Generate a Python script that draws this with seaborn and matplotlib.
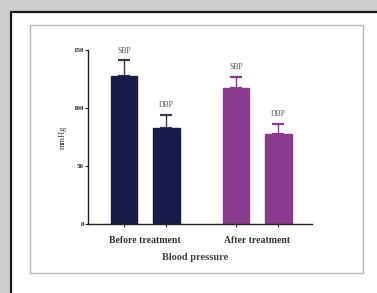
import matplotlib
matplotlib.use("Agg")
import matplotlib.pyplot as plt
from matplotlib.patches import Rectangle
import pandas as pd
import seaborn as sns

# 数据
groups = ["Before treatment", "After treatment"]
measures = ["SBP", "DBP"]
means = [128, 83, 117, 78]
sds = [13, 11, 10, 8]
bar_colors = ["#181b47", "#181b47", "#8b3b8f", "#8b3b8f"]

W, H = 377, 293

df = pd.DataFrame({
    "group": [g for g in groups for _ in measures],
    "measure": measures * len(groups),
    "value": means,
})

sns.set_theme(style="white")
plt.rcParams["font.family"] = ["Liberation Serif", "DejaVu Serif"]

fig = plt.figure(figsize=(W / 100, H / 100), dpi=100)
fig.patch.set_facecolor("#cdd0cf")


def box(x0, y0, x1, y1, **kw):
    # 像素坐标(左上原点) -> figure 坐标
    r = Rectangle((x0 / W, 1 - y1 / H), (x1 - x0) / W, (y1 - y0) / H,
                  transform=fig.transFigure, zorder=-10, **kw)
    fig.patches.append(r)


box(11, 12, 390, 300, facecolor="white", edgecolor="#1a1a1a", linewidth=1.6)
box(30, 25, 363, 273, facecolor="white", edgecolor="#b5b5b5", linewidth=1.0)

ax = fig.add_axes([88 / W, 1 - 224 / H, 224 / W, 174 / H])
ax.set_facecolor("none")

sns.barplot(data=df, x="group", y="value", hue="measure", ax=ax,
            width=0.76, gap=0.38, errorbar=None, legend=False,
            order=groups, hue_order=measures)

bars = sorted(ax.patches, key=lambda p: p.get_x())
for i, p in enumerate(bars):
    p.set_facecolor(bar_colors[i])
    p.set_edgecolor(bar_colors[i])
    p.set_zorder(2)
    cx = p.get_x() + p.get_width() / 2
    top = p.get_height()
    ax.errorbar(cx, top, yerr=[[0], [sds[i]]], fmt="none",
                ecolor=bar_colors[i] if i >= 2 else "#3a3a48",
                elinewidth=1.0, capsize=4, capthick=1.6, zorder=1)
    ax.text(cx, top + sds[i] + 5, measures[i % 2], ha="center", va="bottom",
            fontsize=5.5, color="#555555")

ax.set_xlim(-0.51, 1.49)
ax.set_ylim(0, 150)
ax.set_yticks([0, 50, 100, 150])
ax.tick_params(axis="y", labelsize=5, length=2, width=0.8, pad=1,
               left=True, labelcolor="#222222")
for t in ax.get_yticklabels():
    t.set_fontweight("bold")
ax.set_xticks([(bars[i].get_x() + bars[i].get_width() / 2) for i in range(4)])
ax.set_xticklabels([])
ax.tick_params(axis="x", length=2, width=0.8, bottom=True)
for j, g in enumerate(groups):
    ax.text(j, -10, g, ha="center", va="top", fontsize=7, fontweight="bold",
            color="#333333")
ax.set_xlabel("")
ax.set_ylabel("mmHg", fontsize=6, color="#333333", labelpad=5)
fig.text(195 / W, 1 - 258 / H, "Blood pressure", ha="center", va="center",
         fontsize=7.5, fontweight="bold", color="#444444")

for s in ["top", "right"]:
    ax.spines[s].set_visible(False)
for s in ["left", "bottom"]:
    ax.spines[s].set_color("#222222")
    ax.spines[s].set_linewidth(1.0)

fig.savefig("out.png", dpi=100, facecolor=fig.get_facecolor())
